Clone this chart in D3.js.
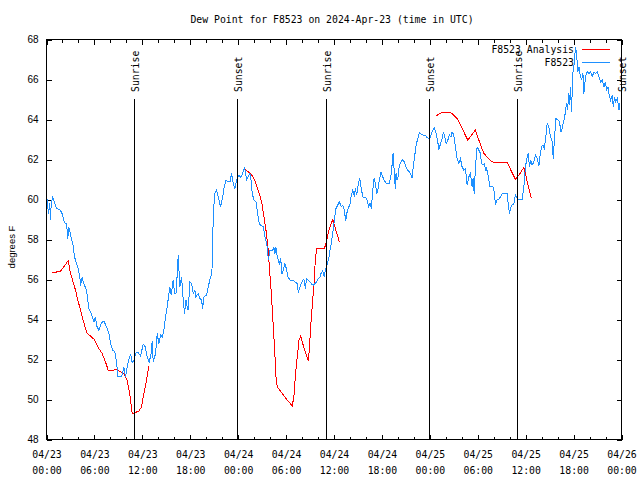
<!DOCTYPE html>
<html><head><meta charset="utf-8">
<script src="https://cdn.jsdelivr.net/npm/d3@7"></script>
<style>
html,body{margin:0;padding:0;background:#fff;}
svg{display:block;}
.mono{font-family:"DejaVu Sans Mono","Liberation Mono",monospace;font-size:9.8px;fill:#000;}
.sans{font-family:"Liberation Sans",Arial,sans-serif;font-size:10px;fill:#000;}
</style></head>
<body>
<svg id="chart" width="640" height="480"></svg>
<script>
// ---- data (hours since 2024-04-23 00:00 UTC, degrees F) ----
const title = "Dew Point for F8523 on 2024-Apr-23 (time in UTC)";
const yLabel = "degrees F";
const seriesNames = ["F8523 Analysis", "F8523"];
const seriesColors = ["#ff0000", "#1e90ff"];
const yTicks = [48, 50, 52, 54, 56, 58, 60, 62, 64, 66, 68];
const sunrises = [10.98, 35.0, 58.97];
const sunsets = [23.88, 47.95, 71.98];

// analysis (null = gap)
const analysis = [
[0.70,56.35],[1.20,56.37],[1.75,56.42],[2.17,56.63],[2.71,56.95],[3.01,56.3],[3.33,55.88],[3.63,55.47],[3.92,54.97],[4.26,54.47],[4.59,53.97],[4.89,53.55],[5.09,53.3],[5.51,53.17],[5.93,53.02],[6.43,52.63],[6.97,52.3],[7.39,51.88],[7.72,51.47],[8.22,51.45],[8.77,51.5],[9.27,51.38],[9.69,51.27],[10.10,50.97],[10.44,50.22],[10.73,49.3],[11.03,49.33],[11.57,49.43],[11.90,49.63],[12.19,50.3],[12.53,50.97],[12.82,51.68],
[18,null],
[24.76,61.55],[25.26,61.38],[25.81,61.17],[26.23,60.8],[26.64,60.3],[26.94,59.88],[27.23,59.13],[27.48,58.47],[27.73,57.63],[27.90,56.63],[28.07,55.8],[28.23,54.8],[28.40,53.63],[28.57,52.47],[28.73,51.13],[28.90,50.63],[29.45,50.33],[29.99,50.05],[30.78,49.67],[30.99,50.22],[31.15,51.13],[31.40,52.13],[31.62,52.97],[31.83,53.17],[32.08,52.8],[32.41,52.38],[32.78,51.93],[32.91,52.47],[33.08,53.63],[33.33,54.97],[33.50,55.8],[33.66,56.97],[33.83,57.55],[34.79,57.55],[35.00,57.8],[35.21,58.22],[35.50,58.63],[35.84,59.0],[36.17,58.55],[36.42,58.22],[36.67,57.88],
[42,null],
[48.70,64.16],[49.41,64.33],[50.45,64.37],[50.79,64.3],[51.42,64.05],[52.04,63.55],[52.76,62.97],[53.71,63.47],[54.14,62.97],[54.76,62.3],[55.80,61.88],[56.64,61.85],[57.68,61.85],[58.72,61.0],[59.15,61.22],[59.77,61.6],[60.06,61.13],[60.40,60.55],[60.73,60.05]
];

// observations
const observed = [
[0.08,60.0],[0.25,59.3],[0.41,59.8],[0.50,59.0],[0.58,59.7],[0.75,60.1],[0.91,59.97],[1.25,59.55],[1.67,59.5],[1.95,59.3],[2.26,58.83],[2.51,58.8],[2.67,58.05],[2.79,58.6],[3.01,58.3],[3.13,57.97],[3.30,57.8],[3.51,57.13],[3.76,56.8],[4.01,56.47],[4.17,56.13],[4.26,55.7],[4.46,56.1],[4.67,55.8],[5.01,55.47],[5.30,54.55],[5.59,54.3],[5.93,53.88],[6.14,54.13],[6.27,53.7],[6.55,53.47],[6.84,53.8],[7.18,53.93],[7.52,53.63],[7.81,53.3],[8.02,52.8],[8.27,52.47],[8.56,52.38],[8.77,51.88],[8.93,51.13],[9.40,51.13],[9.69,51.6],[9.90,51.13],[10.10,51.63],[10.35,52.05],[10.53,52.27],[10.73,51.83],[10.94,51.97],[11.19,52.33],[11.44,52.38],[11.78,52.17],[12.11,52.77],[12.36,52.63],[12.61,52.13],[12.86,51.88],[13.11,52.3],[13.23,52.9],[13.36,51.88],[13.66,52.3],[13.86,53.3],[14.07,52.8],[14.29,53.22],[14.49,53.13],[14.70,53.47],[14.91,54.13],[15.11,54.63],[15.33,55.3],[15.45,55.63],[15.61,55.22],[15.86,55.97],[16.04,55.3],[16.24,55.33],[16.49,57.2],
[16.70,55.63],[16.92,56.13],[17.12,54.97],[17.29,54.3],[17.46,54.97],[17.62,54.63],[17.74,54.47],[17.96,55.88],[18.17,55.8],[18.37,55.3],[18.58,55.47],[18.71,55.13],[19.00,55.3],[19.21,55.05],[19.42,54.97],[19.55,54.55],[19.71,55.13],[20.05,55.22],[20.25,55.63],[20.55,56.13],[20.71,56.3],[20.88,59.13],[21.05,60.3],[21.30,60.47],[21.50,60.13],[21.80,59.63],[22.06,60.13],[22.26,60.63],[22.47,60.97],[22.76,60.88],[22.97,60.88],[23.18,61.3],[23.38,60.8],[23.60,60.55],[23.81,60.97],[24.10,61.22],[24.35,61.1],[24.56,61.3],[24.81,61.6],[25.06,60.97],[25.26,61.13],[25.48,61.3],[25.64,60.88],[25.76,60.3],[25.98,59.97],[26.23,59.88],[26.44,59.3],[26.64,58.8],[26.82,58.72],[27.14,58.63],[27.36,58.13],[27.57,57.8],[27.69,57.47],[27.77,56.97],[27.98,57.47],[28.32,57.47],[28.48,57.6],[28.61,57.3],[28.73,57.6],[28.90,57.13],[29.15,56.8],[29.32,57.05],[29.49,56.3],[29.65,56.47],[29.86,56.8],[30.08,56.47],[30.24,56.13],[30.49,55.97],[30.83,55.97],[31.12,55.88],[31.40,55.8],[31.53,55.33],[31.74,55.63],[32.08,55.97],[32.24,56.0],[32.41,55.55],[32.58,56.05],[32.78,55.97],[32.99,55.88],[33.21,55.77],[33.41,55.72],[33.62,55.8],[33.83,55.88],[34.04,56.05],[34.25,56.13],
[34.37,56.3],[34.59,56.43],[34.79,56.13],[34.91,56.47],[35.13,56.72],[35.34,57.05],[35.50,57.47],[35.66,57.8],[35.84,58.3],[36.04,58.97],[36.25,59.55],[36.47,59.72],[36.67,59.88],[36.92,59.63],[37.09,59.72],[37.29,59.47],[37.47,58.93],[37.59,59.3],[37.79,59.55],[38.01,59.8],[38.17,60.22],[38.35,60.47],[38.55,60.13],[38.67,60.55],[38.85,60.22],[39.05,60.8],[39.22,61.05],[39.39,60.63],[39.60,60.13],[39.85,60.1],[40.10,60.05],[40.35,59.63],[40.51,59.8],[40.68,59.55],[40.85,60.47],[41.02,61.05],[41.18,60.8],[41.35,60.3],[41.52,60.55],[41.68,60.97],[41.89,61.38],[42.11,61.13],[42.31,60.93],[42.52,60.83],[42.73,60.8],[42.93,60.8],[43.11,61.13],[43.27,61.72],[43.40,62.33],[43.48,61.88],[43.56,61.22],[43.68,60.52],[43.77,61.3],[43.90,60.97],[44.02,61.13],[44.19,61.72],[44.40,61.88],[44.61,62.0],[44.81,61.88],[45.03,61.6],[45.24,61.47],[45.44,61.38],[45.65,61.22],[45.78,61.08],[45.94,61.72],[46.12,62.22],[46.28,62.72],[46.49,63.05],[46.69,63.33],[46.90,63.27],[47.19,63.22],[47.44,63.22],[47.66,63.1],[47.94,63.02],[48.16,63.22],[48.37,63.47],[48.57,63.58],[48.78,63.3],[49.00,62.88],[49.12,62.47],[49.29,62.72],[49.54,63.05],[49.70,63.38],[49.87,63.13],[50.04,62.8],[50.25,62.97],[50.45,63.22],[50.66,63.13],[50.79,63.38],
[51.00,63.22],[51.20,62.63],[51.42,62.05],[51.63,61.8],[51.83,62.05],[52.04,61.63],[52.26,61.47],[52.46,61.55],[52.67,60.72],[52.88,61.13],[53.08,61.3],[53.30,60.63],[53.42,61.05],[53.55,60.3],[53.71,61.63],[53.92,62.63],[54.14,62.47],[54.34,62.3],[54.46,61.8],[54.64,61.72],[54.84,61.8],[54.96,61.47],[55.09,61.55],[55.26,61.3],[55.39,60.97],[55.51,60.63],[55.71,60.63],[55.89,60.67],[56.02,60.47],[56.22,59.75],[56.39,59.97],[56.64,60.0],[56.84,60.13],[57.06,60.3],[57.39,60.3],[57.68,60.3],[57.81,59.8],[57.97,59.3],[58.15,59.63],[58.31,59.72],[58.52,59.8],[58.72,60.22],[58.85,60.13],[58.97,60.0],[59.35,60.0],[59.56,60.0],[59.77,60.63],[59.97,61.63],[60.19,62.13],[60.31,62.3],[60.48,61.63],[60.65,61.97],[60.81,61.72],[61.03,61.88],[61.23,62.22],[61.44,62.05],[61.65,61.67],[61.78,62.13],[61.98,62.63],[62.16,62.72],[62.32,62.55],[62.48,62.97],[62.69,63.8],[62.91,63.63],[63.11,63.13],[63.32,62.88],[63.45,62.05],[63.61,63.05],[63.78,64.05],[64.07,63.97],[64.24,63.88],[64.41,63.38],[64.57,63.55],[64.79,63.97],[64.99,64.38],[65.11,64.8],[65.24,64.47],[65.41,65.3],[65.49,64.72],[65.61,65.63],[65.74,64.38],[65.91,66.3],[66.08,66.8],[66.24,67.63],[66.37,67.3],[66.54,66.38],[66.67,66.63],[66.83,66.22],[66.99,65.97],[67.17,66.3],[67.29,65.3],[67.49,66.13],[67.71,66.38],[67.92,66.3],[68.12,66.38],[68.33,66.13],[68.55,66.38],[68.75,66.3],[68.96,66.38],[69.17,66.13],[69.37,65.88],[69.59,65.97],[69.80,65.63],[70.00,65.88],[70.13,65.47],[70.30,65.63],[70.43,65.3],[70.63,64.97],[70.84,65.22],[70.97,64.63],[71.13,65.13],[71.25,64.88],[71.49,65.05],[71.68,64.47],[71.80,64.8]
];

// ---- drawing ----
const START = Date.UTC(2024, 3, 23, 0, 0);
const HOUR = 3600e3;
const toDate = h => new Date(START + h * HOUR);

const svg = d3.select("#chart");
const L = 46.5, R = 621.5, T = 39.5, B = 439.5;

const x = d3.scaleUtc().domain([toDate(0), toDate(72)]).range([L, R]);
const y = d3.scaleLinear().domain([48, 68]).range([B, T]);

const majorTicks = d3.utcHour.every(6).range(toDate(0), toDate(72.01));
const minorTicks = d3.utcHour.every(2).range(toDate(0), toDate(72.01)).filter(d => d.getUTCHours() % 6 !== 0);

// title
svg.append("text").attr("class", "mono").attr("x", 332).attr("y", 23)
  .attr("text-anchor", "middle").text(title);

// axes
function strip(g){ g.select(".domain").remove(); g.selectAll("line").attr("shape-rendering","crispEdges"); }

svg.append("g").attr("transform", `translate(0,${B})`)
  .call(d3.axisBottom(x).tickValues(minorTicks).tickSizeInner(-3).tickSizeOuter(0).tickFormat(""))
  .call(strip);
svg.append("g").attr("transform", `translate(0,${T})`)
  .call(d3.axisTop(x).tickValues(minorTicks).tickSizeInner(-3).tickSizeOuter(0).tickFormat(""))
  .call(strip);
svg.append("g").attr("transform", `translate(0,${T})`)
  .call(d3.axisTop(x).tickValues(majorTicks).tickSizeInner(-5).tickSizeOuter(0).tickFormat(""))
  .call(strip);

const fmtDay = d3.utcFormat("%m/%d"), fmtTime = d3.utcFormat("%H:%M");
const xb = svg.append("g").attr("transform", `translate(0,${B})`)
  .call(d3.axisBottom(x).tickValues(majorTicks).tickSizeInner(-5).tickSizeOuter(0).tickFormat(""))
  .call(strip);
xb.selectAll(".tick text").remove();
xb.selectAll(".tick").each(function(d){
  const t = d3.select(this).append("text").attr("class","mono").attr("text-anchor","middle").attr("fill","#000").style("font-size","9.8px").style("font-family",'"DejaVu Sans Mono","Liberation Mono",monospace');
  t.append("tspan").attr("x",0).attr("y",18).text(fmtDay(d));
  t.append("tspan").attr("x",0).attr("y",34).text(fmtTime(d));
});

const yl = svg.append("g").attr("transform", `translate(${L},0)`)
  .call(d3.axisLeft(y).tickValues(yTicks).tickSizeInner(-5).tickSizeOuter(0).tickPadding(8).tickFormat(d3.format("d")))
  .call(strip);
yl.selectAll("text").attr("class","sans").attr("fill","#000").style("font-size","10px").style("font-family",'"Liberation Sans",Arial,sans-serif');
svg.append("g").attr("transform", `translate(${R},0)`)
  .call(d3.axisRight(y).tickValues(yTicks).tickSizeInner(-5).tickSizeOuter(0).tickFormat(""))
  .call(strip);

// frame
svg.append("rect").attr("x", L).attr("y", T).attr("width", R - L).attr("height", B - T)
  .attr("fill", "none").attr("stroke", "#000").attr("shape-rendering","crispEdges");

// y label
svg.append("text").attr("class","sans").attr("transform", "translate(15,247) rotate(-90)")
  .attr("text-anchor","middle").style("font-size","9.5px").text(yLabel);

// series
const line = d3.line().defined(d => d[1] !== null).x(d => x(toDate(d[0]))).y(d => y(d[1]));
svg.append("path").datum(analysis).attr("d", line).attr("fill","none")
  .attr("stroke", seriesColors[0]).attr("stroke-width", 1).attr("shape-rendering","crispEdges");
svg.append("path").datum(observed).attr("d", line).attr("fill","none")
  .attr("stroke", seriesColors[1]).attr("stroke-width", 1).attr("shape-rendering","crispEdges");

// sunrise / sunset markers
const events = sunrises.map(h => ({h, label:"Sunrise"})).concat(sunsets.map(h => ({h, label:"Sunset"})));
const ev = svg.append("g").selectAll("g").data(events).join("g");
ev.append("line").attr("x1", d => Math.round(x(toDate(d.h))) + 0.5).attr("x2", d => Math.round(x(toDate(d.h))) + 0.5)
  .attr("y1", 99).attr("y2", B).attr("stroke", "#000").attr("shape-rendering","crispEdges");
ev.append("text").attr("class","mono")
  .attr("transform", d => `translate(${x(toDate(d.h)) + 5},92) rotate(-90)`)
  .text(d => d.label);

// legend
const lg = svg.append("g").selectAll("g").data(seriesNames).join("g")
  .attr("transform", (d, i) => `translate(0,${49.5 + i * 13})`);
lg.append("text").attr("class","mono").attr("x", 574).attr("y", 3.5).attr("text-anchor","end").text(d => d);
lg.append("line").attr("x1", 582).attr("x2", 610).attr("y1", 0).attr("y2", 0)
  .attr("stroke", (d, i) => seriesColors[i]).attr("shape-rendering","crispEdges");
</script>
</body></html>
